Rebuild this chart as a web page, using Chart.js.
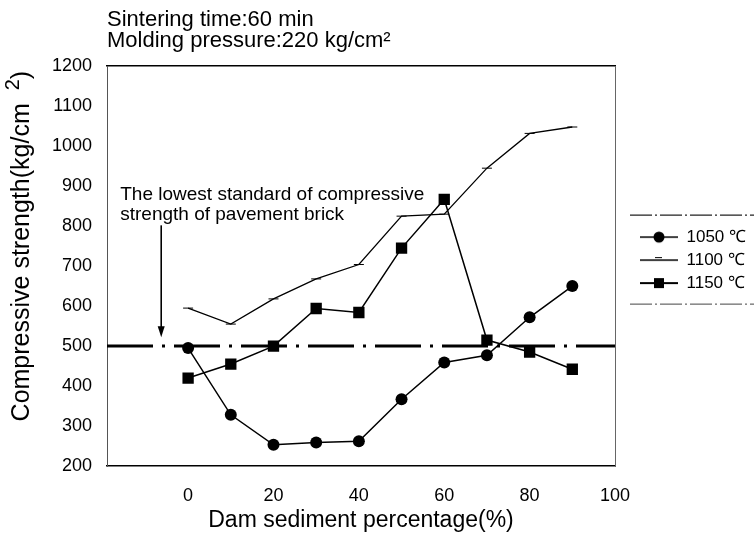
<!DOCTYPE html>
<html><head><meta charset="utf-8">
<script src="https://cdn.jsdelivr.net/npm/chart.js@4.4.1/dist/chart.umd.min.js"></script>
<style>html,body{margin:0;padding:0;background:#fff;}canvas{display:block;}</style>
</head><body>
<canvas id="c" width="754" height="547"></canvas>
<script>
// ---- data ----
const percentages   = [0, 10, 20, 30, 40, 50, 60, 70, 80, 90];
const strength1050  = [495, 328, 253, 259, 262, 367, 459, 477, 572, 650];
const strength1100  = [595, 555, 618, 668, 704, 825, 830, 945, 1032, 1048];
const strength1150  = [420, 455, 500, 594, 584, 745, 867, 515, 485, 442];
const seriesLabels  = ['1050 ℃', '1100 ℃', '1150 ℃'];
const xTickValues   = [0, 20, 40, 60, 80, 100];
const yTickValues   = [200, 300, 400, 500, 600, 700, 800, 900, 1000, 1100, 1200];
const standardValue = 500;
const titleLines    = ['Sintering time:60 min', 'Molding pressure:220 kg/cm²'];
const noteLines     = ['The lowest standard of compressive', 'strength of pavement brick'];
const xAxisTitle    = 'Dam sediment percentage(%)';
const yAxisTitleMain = 'Compressive strength(kg/cm';
const yAxisTitleSup  = '2';
const yAxisTitleEnd  = ')';
const xRange        = [-19, 100];
const yRange        = [200, 1200];
// annotation anchors (data units)
const noteX = -15.9, noteY = [865, 815];
const arrowX = -6.3, arrowFromY = 802, arrowToY = 522;

const FONT = '"Liberation Sans", Arial, Helvetica, sans-serif';
Chart.defaults.font.family = FONT;
Chart.defaults.color = '#000';

function legendIcon(kind) {
  const c = document.createElement('canvas');
  c.width = 38; c.height = 14;
  const g = c.getContext('2d');
  g.strokeStyle = '#000'; g.fillStyle = '#000';
  g.lineWidth = kind === 'rect' ? 2 : 1.3;
  g.beginPath(); g.moveTo(0, 7); g.lineTo(38, 7); g.stroke();
  if (kind === 'circle') { g.beginPath(); g.arc(19, 7, 5.5, 0, Math.PI * 2); g.fill(); }
  if (kind === 'rect') { g.fillRect(14, 2, 10, 10); }
  if (kind === 'line') { g.lineWidth = 1; g.beginPath(); g.moveTo(15, 4.5); g.lineTo(22, 4.5); g.stroke(); }
  return c;
}
const icons = [legendIcon('circle'), legendIcon('line'), legendIcon('rect')];

const toPoints = ys => percentages.map((x, i) => ({x, y: ys[i]}));

const LEG_PAD = 6, LEG_FONT = 17, LEG_SHIFT = 6;
const YT_SIZE = 25, YT_SUP = 20;

const notesPlugin = {
  id: 'notes',
  beforeDraw(chart) {
    const lg = chart.legend, ca = chart.chartArea;
    if (lg) { lg.top = ca.top - LEG_SHIFT; lg.bottom = ca.bottom - LEG_SHIFT; }
  },
  afterDraw(chart) {
    const {ctx, scales: {x, y}, chartArea: ca} = chart;
    ctx.save();
    ctx.fillStyle = '#000';
    // y axis title (rotated), with raised "2"
    ctx.save();
    const yMid = (ca.top + ca.bottom) / 2 - 20;
    ctx.translate(29, yMid);
    ctx.rotate(-Math.PI / 2);
    ctx.textBaseline = 'alphabetic';
    ctx.textAlign = 'left';
    ctx.font = YT_SIZE + 'px ' + FONT;
    const wMain = ctx.measureText(yAxisTitleMain).width;
    const wEnd = ctx.measureText(yAxisTitleEnd).width;
    ctx.font = YT_SUP + 'px ' + FONT;
    const wSup = ctx.measureText(yAxisTitleSup).width;
    const gap = 13;
    const total = wMain + gap + wSup + wEnd;
    let cx = -total / 2;
    ctx.font = YT_SIZE + 'px ' + FONT;
    ctx.fillText(yAxisTitleMain, cx, 0);
    cx += wMain + gap;
    ctx.font = YT_SUP + 'px ' + FONT;
    ctx.fillText(yAxisTitleSup, cx, -10);
    cx += wSup;
    ctx.font = YT_SIZE + 'px ' + FONT;
    ctx.fillText(yAxisTitleEnd, cx, 0);
    ctx.restore();
    // annotation text
    ctx.font = '19px ' + FONT;
    ctx.textBaseline = 'alphabetic';
    ctx.textAlign = 'left';
    noteLines.forEach((t, i) => ctx.fillText(t, x.getPixelForValue(noteX), y.getPixelForValue(noteY[i])));
    // arrow
    const ax = x.getPixelForValue(arrowX);
    const ay1 = y.getPixelForValue(arrowFromY), ay2 = y.getPixelForValue(arrowToY);
    ctx.strokeStyle = '#000'; ctx.lineWidth = 1.6;
    ctx.beginPath(); ctx.moveTo(ax, ay1); ctx.lineTo(ax, ay2 - 8); ctx.stroke();
    ctx.beginPath(); ctx.moveTo(ax - 3.5, ay2 - 11); ctx.lineTo(ax + 3.5, ay2 - 11); ctx.lineTo(ax, ay2); ctx.closePath(); ctx.fill();
    // legend frame lines
    const lg = chart.legend;
    if (lg) {
      const n = 3, rowH = LEG_FONT + LEG_PAD;
      const yStart = (lg.top + LEG_PAD + lg.bottom - n * rowH) / 2;
      const r0 = yStart + LEG_FONT / 2;
      const top = r0 - 22, bot = r0 + (n - 1) * rowH + 21;
      ctx.lineWidth = 1.3; ctx.strokeStyle = '#222';
      ctx.setLineDash([22, 3, 2, 3]);
      ctx.beginPath(); ctx.moveTo(lg.left - 4, top); ctx.lineTo(chart.width, top); ctx.stroke();
      ctx.strokeStyle = '#444'; ctx.lineWidth = 1;
      ctx.beginPath(); ctx.moveTo(lg.left - 4, bot); ctx.lineTo(chart.width, bot); ctx.stroke();
    }
    ctx.restore();
  }
};

new Chart(document.getElementById('c'), {
  type: 'line',
  data: {
    datasets: [
      {label: seriesLabels[0], data: toPoints(strength1050), borderColor: '#000', backgroundColor: '#000',
       borderWidth: 1.5, pointStyle: 'circle', pointRadius: 6, pointBorderWidth: 0},
      {label: seriesLabels[1], data: toPoints(strength1100), borderColor: '#000', backgroundColor: '#000',
       borderWidth: 1.3, pointStyle: 'line', pointRadius: 5, pointBorderWidth: 1},
      {label: seriesLabels[2], data: toPoints(strength1150), borderColor: '#000', backgroundColor: '#000',
       borderWidth: 1.5, pointStyle: 'rect', pointRadius: 8, pointBorderWidth: 0},
      {label: 'standard', data: xRange.map(v => ({x: v, y: standardValue})), borderColor: '#000',
       borderWidth: 3, borderDash: [46, 9, 3, 9], pointRadius: 0}
    ]
  },
  options: {
    responsive: false,
    animation: false,
    devicePixelRatio: 1,
    elements: {line: {tension: 0, fill: false}},
    layout: {padding: 0},
    scales: {
      x: {
        type: 'linear', min: xRange[0], max: xRange[1],
        afterBuildTicks: s => { s.ticks = xTickValues.map(v => ({value: v})); },
        ticks: {font: {size: 18}, color: '#000', padding: 19, callback: v => String(v)},
        grid: {display: false, drawTicks: false},
        border: {display: true, color: '#000', width: 1.5, dash: [14, 4, 3, 4]},
        title: {display: true, text: xAxisTitle, color: '#000', font: {size: 23}, padding: {top: 0, bottom: 13}},
        afterFit: s => { s.height = 81; }
      },
      x2: {
        type: 'linear', position: 'top', min: xRange[0], max: xRange[1],
        ticks: {display: false}, grid: {display: false, drawTicks: false},
        border: {display: true, color: '#000', width: 1.5, dash: [60, 5, 3, 5]},
        afterFit: s => { s.height = 0; }
      },
      y: {
        type: 'linear', min: yRange[0], max: yRange[1],
        afterBuildTicks: s => { s.ticks = yTickValues.map(v => ({value: v})); },
        ticks: {font: {size: 18}, color: '#000', padding: 15, callback: v => String(v)},
        grid: {display: false, drawTicks: false},
        border: {display: true, color: '#555', width: 1, dash: [2, 3]},
        title: {display: false},
        afterFit: s => { s.width = 107; }
      },
      y2: {
        type: 'linear', position: 'right', min: yRange[0], max: yRange[1],
        ticks: {display: false}, grid: {display: false, drawTicks: false},
        border: {display: true, color: '#666', width: 1, dash: [2, 4]},
        afterFit: s => { s.width = 19; }
      }
    },
    plugins: {
      title: {
        display: true, text: titleLines, align: 'start', fullSize: false, color: '#000',
        font: {size: 22, weight: 'normal', lineHeight: 0.96},
        padding: {top: 9, bottom: 15}
      },
      legend: {
        position: 'right', maxWidth: 120,
        labels: {
          usePointStyle: true, pointStyleWidth: 38, padding: LEG_PAD, color: '#000',
          font: {size: LEG_FONT},
          generateLabels: chart => Chart.defaults.plugins.legend.labels.generateLabels(chart)
            .map(l => ({...l, pointStyle: icons[l.datasetIndex], fontColor: '#000'})),
          filter: item => item.datasetIndex < 3
        }
      },
      tooltip: {enabled: false}
    }
  },
  plugins: [notesPlugin]
});
</script>
</body></html>
